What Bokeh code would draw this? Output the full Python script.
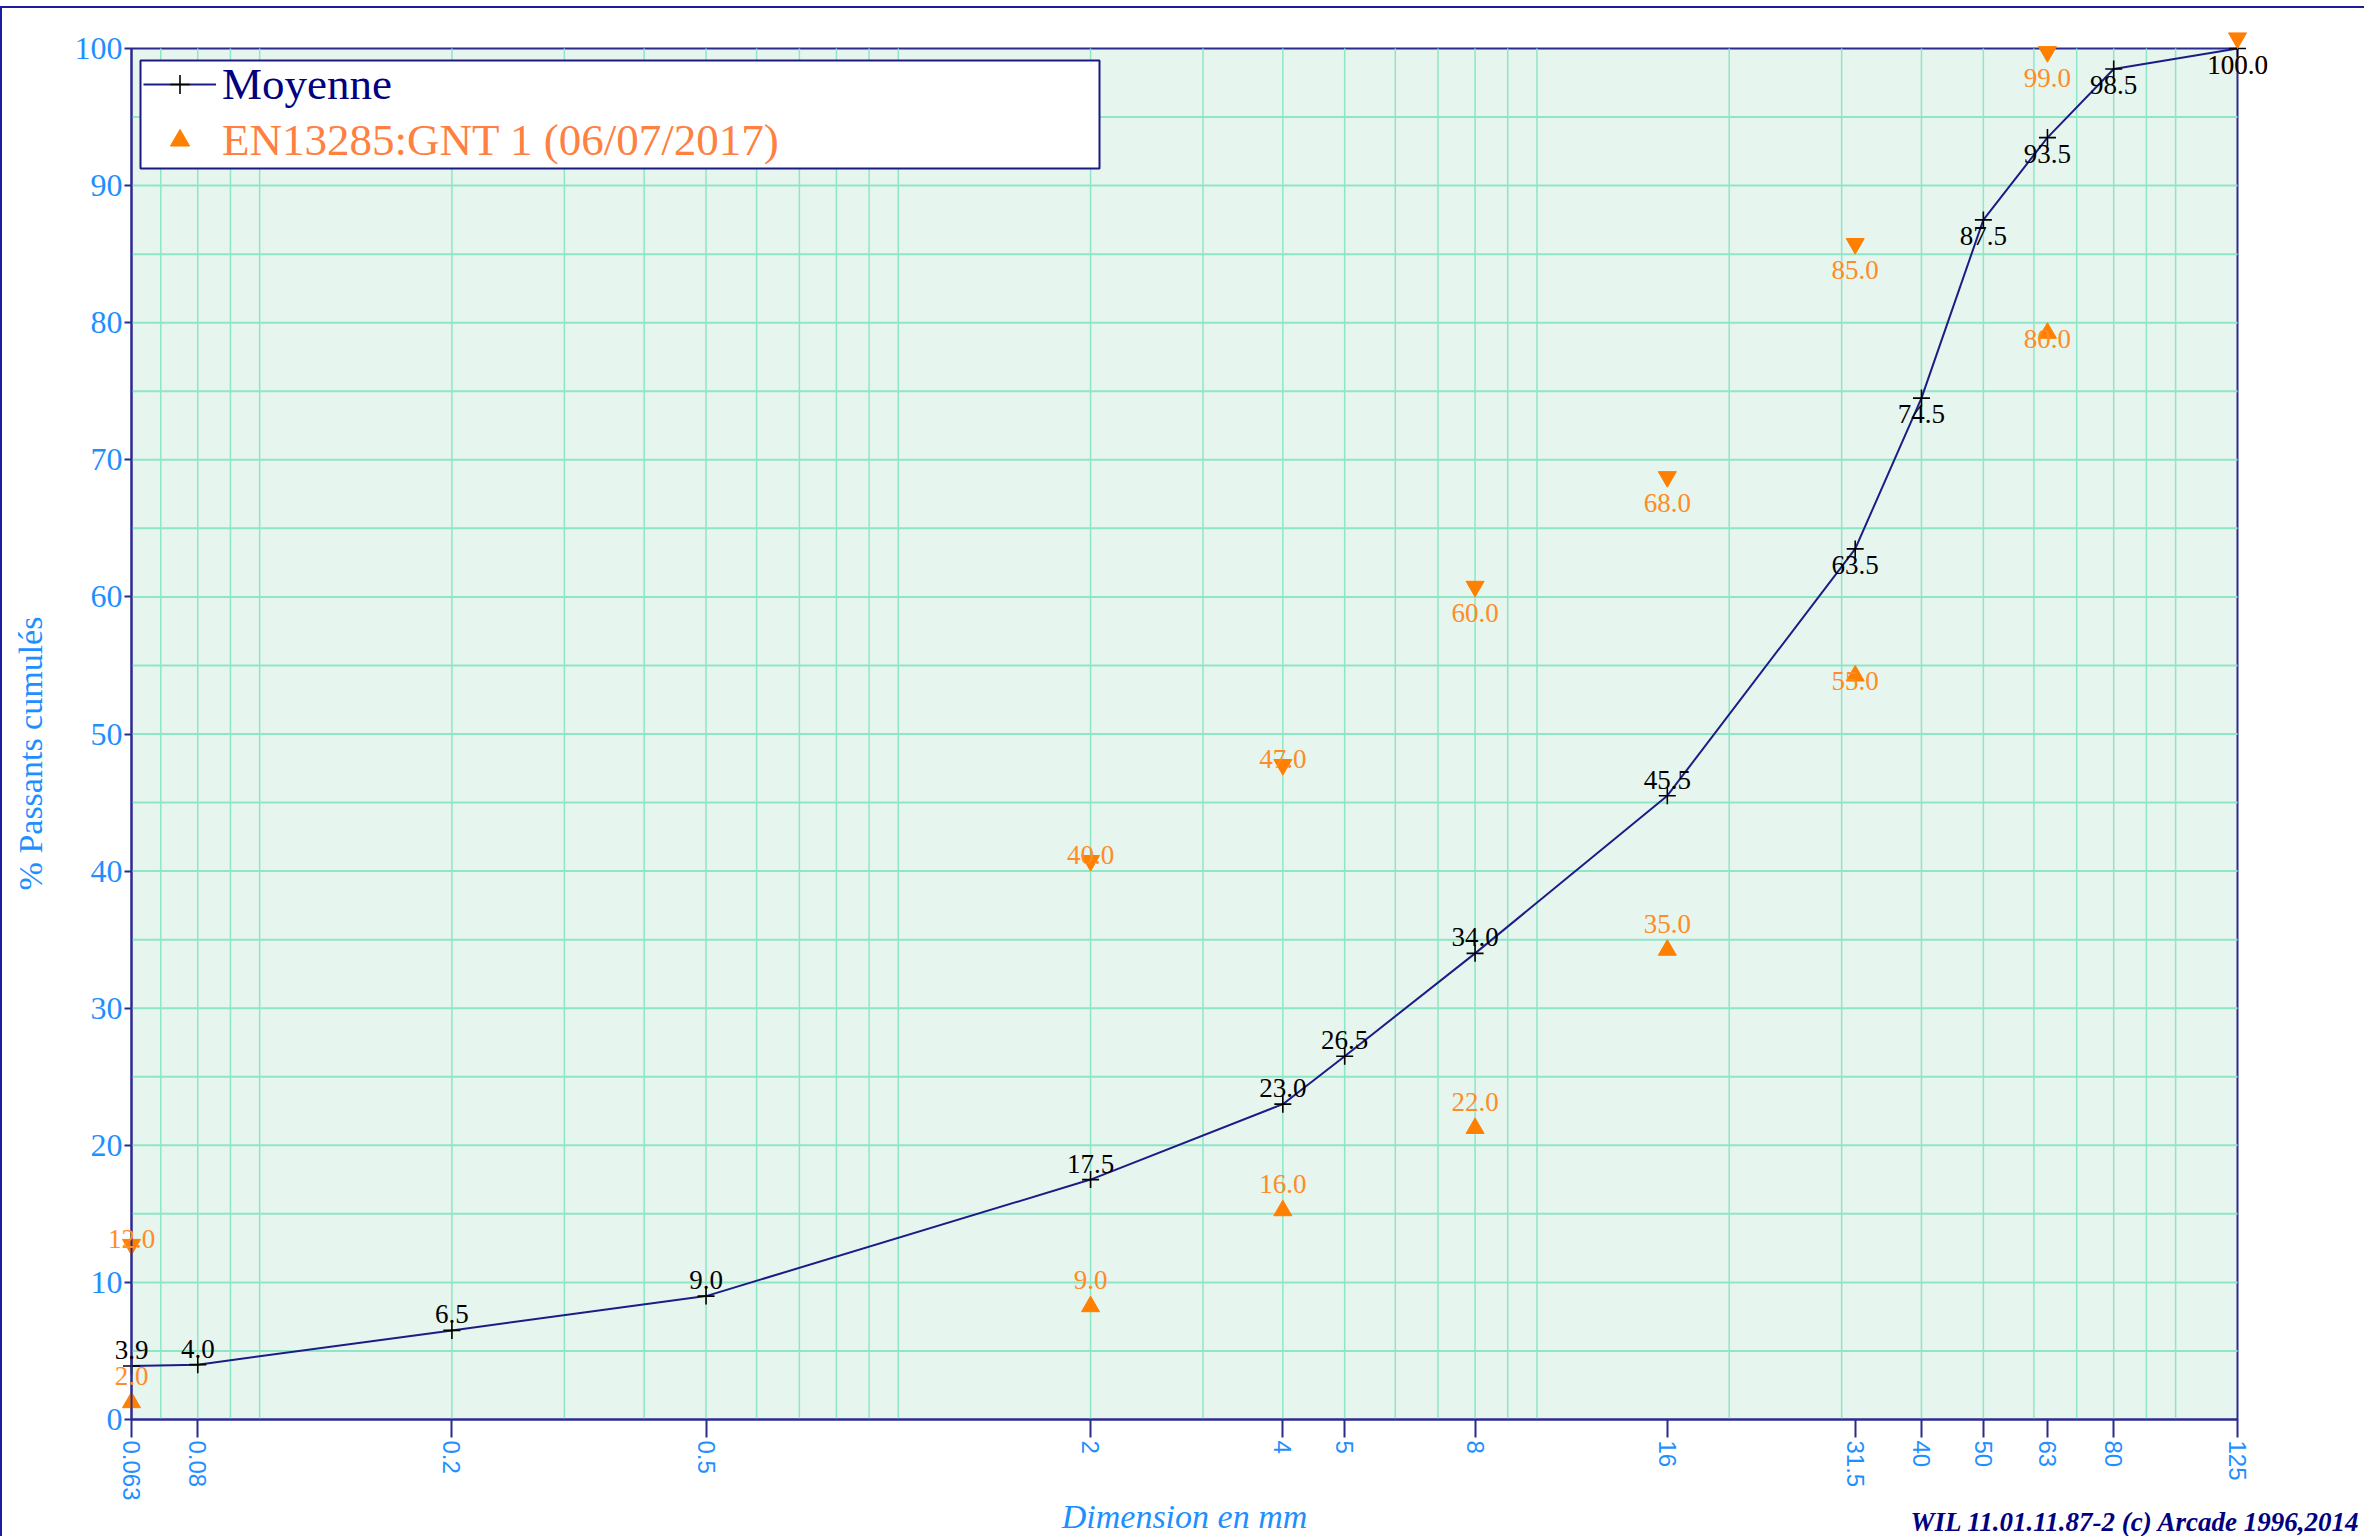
import math
from bokeh.plotting import figure
from bokeh.models import (ColumnDataSource, FixedTicker, Legend, LegendItem, LabelSet,
                          Label, BoxAnnotation, Range1d, Node)
from bokeh.embed import file_html
from bokeh.resources import INLINE

# ---------------- data ----------------
sieve_mm = [0.063, 0.08, 0.2, 0.5, 2, 4, 5, 8, 16, 31.5, 40, 50, 63, 80, 125]
moyenne = [3.9, 4.0, 6.5, 9.0, 17.5, 23.0, 26.5, 34.0, 45.5, 63.5, 74.5, 87.5, 93.5, 98.5, 100.0]

spec_upper_sieves = [0.063, 2, 4, 8, 16, 31.5, 63, 125]
spec_upper = [12.0, 40.0, 47.0, 60.0, 68.0, 85.0, 99.0, 100.0]
spec_lower_sieves = [0.063, 2, 4, 8, 16, 31.5, 63]
spec_lower = [2.0, 9.0, 16.0, 22.0, 35.0, 55.0, 80.0]

x_ticks = [0.063, 0.08, 0.2, 0.5, 2, 4, 5, 8, 16, 31.5, 40, 50, 63, 80, 125]
x_tick_labels = ["0.063", "0.08", "0.2", "0.5", "2", "4", "5", "8", "16",
                 "31.5", "40", "50", "63", "80", "125"]
y_ticks = [0, 10, 20, 30, 40, 50, 60, 70, 80, 90, 100]

X_MIN, X_MAX = 0.063, 125
Y_MIN, Y_MAX = 0, 100

# ---------------- styles / layout ----------------
BLUE = "#1e8fff"
NAVY = "#2a2a8f"
GRID = "#8fe6c6"
BG = "#e6f5ee"
ORANGE = "#ff7f00"
ORANGE_TXT = "#ff8c26"
SERIF = "Liberation Serif"
SANS = "Liberation Sans"

OFF_X, OFF_Y = 2, 8            # page position of the canvas (border / margin)
W, H = 2364, 1530
PL, PR, PT, PB = 131, 2237, 48, 1419   # plot area in page pixels

dec_px = (PR - PL) / math.log10(X_MAX / X_MIN)
unit_px = (PB - PT) / (Y_MAX - Y_MIN)
x_start = X_MIN * 10 ** ((OFF_X - PL) / dec_px)
x_end = X_MAX * 10 ** ((OFF_X + W - PR) / dec_px)
y_end = Y_MAX + (PT - OFF_Y) / unit_px
y_start = Y_MIN - (OFF_Y + H - PB) / unit_px


def px_x(page_x):
    return page_x - OFF_X


def px_y(page_y):
    return page_y - OFF_Y


def from_bottom(page_y):
    return OFF_Y + H - page_y


p = figure(width=W, height=H, x_axis_type="log",
           x_range=Range1d(x_start, x_end), y_range=Range1d(y_start, y_end),
           output_backend="svg", toolbar_location=None, title=None,
           min_border_left=0, min_border_right=0, min_border_top=0, min_border_bottom=0)
p.styles = {"margin-top": "6px",
            "border-top": "2px solid #1c1ca0", "border-left": "2px solid #1c1ca0"}
p.background_fill_color = "white"
p.border_fill_color = "white"
p.outline_line_color = None
p.grid.visible = False

# plot area (green field with navy border)
p.add_layout(BoxAnnotation(left=X_MIN, right=X_MAX, bottom=Y_MIN, top=Y_MAX,
                           fill_color=BG, fill_alpha=1.0, line_color=NAVY,
                           line_width=2, line_alpha=1.0, level="underlay"))

# grid lines restricted to the plot area
grid_vals = [m * 10.0 ** e for e in (-2, -1, 0, 1) for m in range(1, 10)]
grid_vals = [round(g, 6) for g in grid_vals if X_MIN < g < X_MAX] + [100]
p.segment(x0=grid_vals, y0=[Y_MIN] * len(grid_vals), x1=grid_vals, y1=[Y_MAX] * len(grid_vals),
          line_color=GRID, line_width=1.5)
hgrid = list(range(5, 100, 5))
p.segment(x0=[X_MIN] * len(hgrid), y0=hgrid, x1=[X_MAX] * len(hgrid), y1=hgrid,
          line_color=GRID, line_width=2)

# x axis
xa = p.xaxis[0]
xa.fixed_location = Y_MIN
xa.bounds = (X_MIN, X_MAX)
xa.ticker = FixedTicker(ticks=x_ticks, minor_ticks=[])
xa.major_label_overrides = {t: lbl for t, lbl in zip(x_ticks, x_tick_labels)}
xa.major_label_orientation = "vertical"
xa.major_label_text_font = SANS
xa.major_label_text_font_size = "24px"
xa.major_label_text_color = BLUE
xa.major_label_standoff = 3
xa.major_tick_out = 18
xa.major_tick_in = 0
xa.minor_tick_out = 0
xa.minor_tick_in = 0
xa.major_tick_line_color = NAVY
xa.major_tick_line_width = 2
xa.axis_line_color = NAVY
xa.axis_line_width = 2

# y axis
ya = p.yaxis[0]
ya.fixed_location = X_MIN
ya.bounds = (Y_MIN, Y_MAX)
ya.ticker = FixedTicker(ticks=y_ticks, minor_ticks=[])
ya.major_label_text_font = SERIF
ya.major_label_text_font_size = "32px"
ya.major_label_text_color = BLUE
ya.major_label_standoff = 2
ya.major_tick_out = 7
ya.major_tick_in = 0
ya.minor_tick_out = 0
ya.minor_tick_in = 0
ya.major_tick_line_color = NAVY
ya.major_tick_line_width = 2
ya.axis_line_color = NAVY
ya.axis_line_width = 2

# ---------------- glyphs ----------------
line_r = p.line(sieve_mm, moyenne, line_color="#1c1c86", line_width=2)
cross_r = p.scatter(sieve_mm, moyenne, marker="cross", size=17,
                    line_color="black", line_width=1.6)

TRI = 18
tip_units = (TRI / 2) * math.sqrt(3) * 2 / 3 / unit_px
up_r = p.scatter(spec_lower_sieves, [v - tip_units for v in spec_lower], marker="triangle",
                 size=TRI, fill_color=ORANGE, line_color=ORANGE)
down_r = p.scatter(spec_upper_sieves, [v + tip_units for v in spec_upper],
                   marker="inverted_triangle", size=TRI, fill_color=ORANGE, line_color=ORANGE)


def lab_src(xs, ys):
    return ColumnDataSource(dict(x=xs, y=ys, t=[f"{v:.1f}" for v in ys],
                                 off=[16 if v <= 50 else -16 for v in ys]))


spec_src = lab_src(spec_upper_sieves + spec_lower_sieves, spec_upper + spec_lower)
p.add_layout(LabelSet(x="x", y="y", text="t", y_offset="off", source=spec_src,
                      text_align="center", text_baseline="middle",
                      text_font=SERIF, text_font_size="27px", text_color=ORANGE_TXT))
moy_src = lab_src(sieve_mm, moyenne)
p.add_layout(LabelSet(x="x", y="y", text="t", y_offset="off", source=moy_src,
                      text_align="center", text_baseline="middle",
                      text_font=SERIF, text_font_size="27px", text_color="black"))

# ---------------- legend ----------------
p.add_layout(BoxAnnotation(left=Node(target="frame", symbol="left", offset=px_x(140)),
                           right=Node(target="frame", symbol="left", offset=px_x(1099)),
                           top=Node(target="frame", symbol="top", offset=px_y(60)),
                           bottom=Node(target="frame", symbol="top", offset=px_y(168)),
                           fill_color="white", fill_alpha=1.0,
                           line_color="#1a1a80", line_width=2, line_alpha=1.0))

common = dict(orientation="vertical", padding=0, margin=0, spacing=0,
              glyph_width=73, glyph_height=48, label_height=48, label_standoff=6,
              label_text_font=SERIF, label_text_font_size="45px",
              border_line_alpha=0, background_fill_alpha=0)
leg1 = Legend(items=[LegendItem(label="Moyenne", renderers=[line_r, cross_r])],
              location=(px_x(143), H - (px_y(86) + 24)), label_text_color="#000080", **common)
leg2 = Legend(items=[LegendItem(label="EN13285:GNT 1 (06/07/2017)", renderers=[up_r])],
              location=(px_x(143), H - (px_y(142) + 24)), label_text_color="#ff8040", **common)
p.add_layout(leg1)
p.add_layout(leg2)

# ---------------- axis titles and footer ----------------
p.add_layout(Label(x=px_x(30), y=(PB - 753) / unit_px, x_units="screen", y_units="data",
                   angle=math.pi / 2, text="% Passants cumulés", text_align="center",
                   text_baseline="middle", text_font=SERIF, text_font_size="34px",
                   text_color=BLUE))
p.add_layout(Label(x=math.sqrt(X_MIN * X_MAX), y=from_bottom(1516), x_units="data",
                   y_units="screen", text="Dimension en mm", text_align="center",
                   text_baseline="middle", text_font=SERIF, text_font_style="italic",
                   text_font_size="34px", text_color=BLUE))
p.add_layout(Label(x=px_x(2360), y=from_bottom(1521), x_units="screen", y_units="screen",
                   text="WIL 11.01.11.87-2 (c) Arcade 1996,2014", text_align="right",
                   text_baseline="middle", text_font=SERIF,
                   text_font_style="bold italic", text_font_size="27px",
                   text_color="#000080"))

open("out.html", "w").write(file_html(p, INLINE))
